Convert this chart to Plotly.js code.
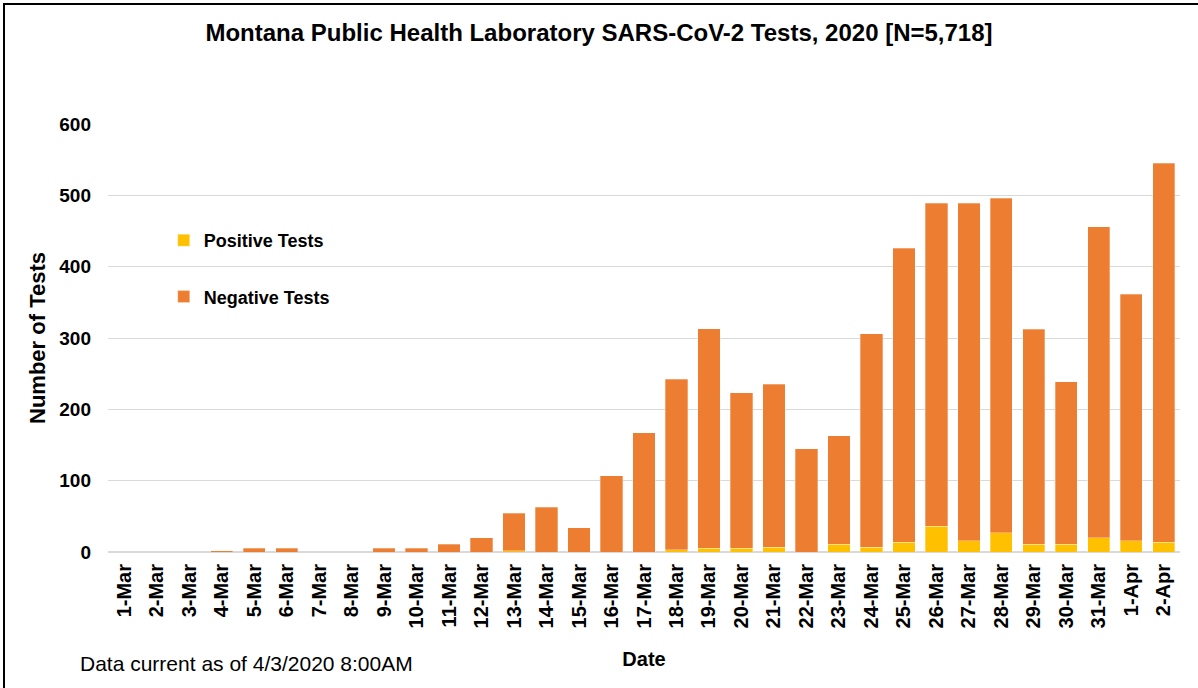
<!DOCTYPE html>
<html>
<head>
<meta charset="utf-8">
<script src="https://cdn.plot.ly/plotly-3.0.1.min.js"></script>
<style>
html,body{margin:0;padding:0;background:#fff;}
#chart{position:absolute;left:0;top:0;width:1198px;height:688px;}
#frame{position:absolute;left:3px;top:3px;width:1300px;height:800px;border-left:2px solid #000;border-top:2px solid #000;pointer-events:none;}
</style>
</head>
<body>
<div id="chart"></div>
<div id="frame"></div>
<script>
const dates = ["1-Mar","2-Mar","3-Mar","4-Mar","5-Mar","6-Mar","7-Mar","8-Mar","9-Mar","10-Mar","11-Mar","12-Mar","13-Mar","14-Mar","15-Mar","16-Mar","17-Mar","18-Mar","19-Mar","20-Mar","21-Mar","22-Mar","23-Mar","24-Mar","25-Mar","26-Mar","27-Mar","28-Mar","29-Mar","30-Mar","31-Mar","1-Apr","2-Apr"];
const positiveTests = [0,0,0,0,0,0,0,0,0,0,0,0,2,0,0,0,0,3,5,5,7,0,11,7,14,36,16,27,11,11,20,16,14];
const negativeTests = [0,0,0,2,5,5,0,0,5,5,11,20,52,63,34,107,167,239,308,218,228,145,152,299,412,453,473,469,301,228,436,345,531];
const yTicks = [0,100,200,300,400,500,600];

const FONT = '"Liberation Sans", Arial, sans-serif';
const barLine = {color:'rgba(255,255,255,0.5)', width:0.6};

const traces = [
  {type:'bar', name:'Positive Tests', x:dates, y:positiveTests, legendgroup:'p',
   marker:{color:'#FFC000', line:barLine}},
  {type:'bar', name:'Negative Tests', x:dates, y:negativeTests, legendgroup:'n',
   marker:{color:'#ED7D31', line:barLine}}
];

const layout = {
  width:1198, height:688,
  margin:{l:108, r:18, t:124, b:136},
  paper_bgcolor:'#fff', plot_bgcolor:'#fff',
  barmode:'stack', bargap:0.313,
  font:{family:FONT, color:'#000'},
  title:{text:'<b>Montana Public Health Laboratory SARS-CoV-2 Tests, 2020 [N=5,718]</b>',
         x:0.5, xref:'container', xanchor:'center', y:0.952, yref:'container', yanchor:'middle',
         font:{family:FONT, size:24, color:'#000'}},
  xaxis:{type:'category', tickangle:-90, showgrid:false, ticks:'', ticklabelstandoff:7,
         tickfont:{family:FONT, size:20, color:'#000', weight:'bold'},
         title:{text:'<b>Date</b>', font:{family:FONT, size:20, color:'#000'}, standoff:24},
         showline:false, fixedrange:true},
  yaxis:{range:[0,600], tickvals:yTicks, ticktext:yTicks.map(v=>'<b>'+v+'</b>'),
         tickfont:{family:FONT, size:19, color:'#000'},
         gridcolor:'#d9d9d9', gridwidth:1, zeroline:true, zerolinecolor:'#d9d9d9', zerolinewidth:1.5,
         ticklabelstandoff:16,
         title:{text:'<b>Number of Tests</b>', font:{family:FONT, size:22, color:'#000'}, standoff:7},
         showline:false, fixedrange:true},
  legend:{x:0.052, y:0.771, xanchor:'left', yanchor:'top', bgcolor:'rgba(0,0,0,0)',
          traceorder:'grouped', tracegroupgap:30, itemwidth:30,
          font:{family:FONT, size:18, color:'#000', weight:'bold'}},
  annotations:[
    {text:'Data current as of 4/3/2020 8:00AM', xref:'paper', yref:'paper', x:-0.028, y:-0.26,
     xanchor:'left', yanchor:'middle', showarrow:false, font:{family:FONT, size:21, color:'#000'}}
  ]
};

Plotly.newPlot('chart', traces, layout, {displayModeBar:false, staticPlot:true});
</script>
</body>
</html>
